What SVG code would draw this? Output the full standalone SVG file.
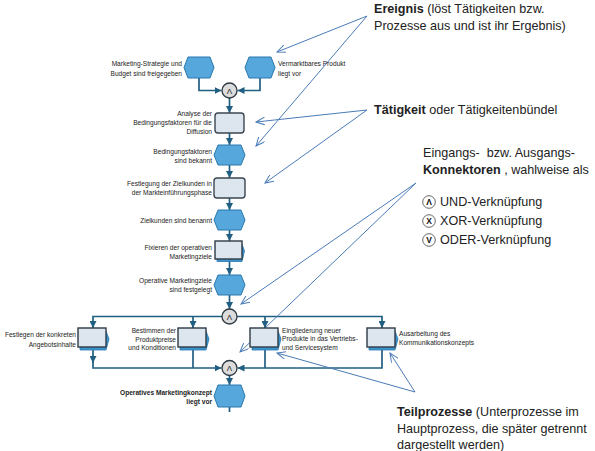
<svg xmlns="http://www.w3.org/2000/svg" width="595" height="451" viewBox="0 0 595 451">
<defs>
<style>
.ev{fill:#56a8dc;stroke:#2a78ad;stroke-width:1}
.act{fill:#dde5ee;stroke:#3a4650;stroke-width:1.4}
.sp{fill:#dde5ee;stroke:#2e3a44;stroke-width:1.4}
.spb{fill:#3d95d0;stroke:#2a78ad;stroke-width:0.8}
.con{fill:#dcdcdc;stroke:#2e3a44;stroke-width:1.3}
.flow{fill:none;stroke:#205f82;stroke-width:1.7}
.ptr{fill:none;stroke:#4a7bb7;stroke-width:1}
.lbl{font-family:"Liberation Sans",Arial,sans-serif;font-size:6.6px;fill:#222}
.sym{font-family:"Liberation Sans",Arial,sans-serif;font-size:8px;fill:#222;text-anchor:middle}
.ann{font-family:"Liberation Sans",Arial,sans-serif;font-size:12.6px;fill:#222}
.lsym{font-family:"Liberation Sans",Arial,sans-serif;font-size:8.5px;font-weight:bold;fill:#111;text-anchor:middle}
.r{text-anchor:end}
</style>
<marker id="fa" markerUnits="userSpaceOnUse" markerWidth="7" markerHeight="7" refX="7" refY="3.5" orient="auto">
<path d="M0,0 L7,3.5 L0,7 z" fill="#205f82"/>
</marker>
<marker id="pa" markerUnits="userSpaceOnUse" markerWidth="10" markerHeight="8" refX="9" refY="4" orient="auto">
<path d="M0,0 L9,4 L0,8" fill="none" stroke="#4a7bb7" stroke-width="1"/>
</marker>
</defs>
<rect width="595" height="451" fill="#ffffff"/>

<g id="connectors">
<path class="flow" d="M199,78 V90.5 H221.5" marker-end="url(#fa)"/>
<path class="flow" d="M260,78 V90.5 H237.5" marker-end="url(#fa)"/>
<path class="flow" d="M229.5,98 V113" marker-end="url(#fa)"/>
<path class="flow" d="M229.5,133 V145" marker-end="url(#fa)"/>
<path class="flow" d="M229.5,165 V178" marker-end="url(#fa)"/>
<path class="flow" d="M229.5,198 V210" marker-end="url(#fa)"/>
<path class="flow" d="M229.5,230 V241" marker-end="url(#fa)"/>
<path class="flow" d="M229.5,261 V275" marker-end="url(#fa)"/>
<path class="flow" d="M229.5,295 V309" marker-end="url(#fa)"/>
<path class="flow" d="M222,316.5 H93 V328" marker-end="url(#fa)"/>
<path class="flow" d="M237,316.5 H382 V328" marker-end="url(#fa)"/>
<path class="flow" d="M193,316.5 V328" marker-end="url(#fa)"/>
<path class="flow" d="M265,316.5 V328" marker-end="url(#fa)"/>
<path class="flow" d="M93,349 V363" marker-end="url(#fa)"/>
<path class="flow" d="M93,362 V368 H221.5" marker-end="url(#fa)"/>
<path class="flow" d="M193,349 V368"/>
<path class="flow" d="M265,349 V368"/>
<path class="flow" d="M382,349 V368 H237.5" marker-end="url(#fa)"/>
<path class="flow" d="M229.5,375.5 V385" marker-end="url(#fa)"/>
<path class="flow" d="M229.5,407 V412"/>
<path class="ptr" d="M367,16 L277,52" marker-end="url(#pa)"/>
<path class="ptr" d="M367,16 L256,146" marker-end="url(#pa)"/>
<path class="ptr" d="M367,110 L256,122" marker-end="url(#pa)"/>
<path class="ptr" d="M367,110 L265,183" marker-end="url(#pa)"/>
<path class="ptr" d="M416,183 L241,304" marker-end="url(#pa)"/>
<path class="ptr" d="M416,183 L240,352" marker-end="url(#pa)"/>
<path class="ptr" d="M415,392 L277,353" marker-end="url(#pa)"/>
<path class="ptr" d="M415,392 L390,353" marker-end="url(#pa)"/>
</g>

<g id="e1">
<polygon class="ev" points="188,57 210,57 214,67.5 210,78 188,78 184,67.5"/>
<text class="lbl r" x="182" y="66">Marketing-Strategie und</text>
<text class="lbl r" x="182" y="75.5">Budget sind freigegeben</text>
</g>
<g id="e2">
<polygon class="ev" points="249,57 271,57 275,67.5 271,78 249,78 245,67.5"/>
<text class="lbl" x="278" y="66">Vermarktbares Produkt</text>
<text class="lbl" x="278" y="75.5">liegt vor</text>
</g>
<g id="c1">
<circle class="con" cx="229.5" cy="90.5" r="7.5"/>
<text class="sym" x="229.5" y="93.5">Λ</text>
</g>
<g id="a1">
<rect class="act" x="215" y="113" width="29" height="20" rx="3"/>
<text class="lbl r" x="212" y="116">Analyse der</text>
<text class="lbl r" x="212" y="125">Bedingungsfaktoren für die</text>
<text class="lbl r" x="212" y="133.5">Diffusion</text>
</g>
<g id="e3">
<polygon class="ev" points="218,145 241,145 245,155 241,165 218,165 214,155"/>
<text class="lbl r" x="212" y="154">Bedingungsfaktoren</text>
<text class="lbl r" x="212" y="162.5">sind bekannt</text>
</g>
<g id="a2">
<rect class="act" x="214" y="178" width="31" height="20" rx="3"/>
<text class="lbl r" x="212" y="186">Festlegung der Zielkunden in</text>
<text class="lbl r" x="212" y="195">der Markteinführungsphase</text>
</g>
<g id="e4">
<polygon class="ev" points="218,210 241,210 245,220 241,230 218,230 214,220"/>
<text class="lbl r" x="212" y="222.5">Zielkunden sind benannt</text>
</g>
<g id="s1">
<polygon class="spb" points="217,244 242,244 244.5,251 242,261.5 217,261.5"/>
<rect class="sp" x="215" y="241" width="27" height="18"/>
<text class="lbl r" x="212" y="250">Fixieren der operativen</text>
<text class="lbl r" x="212" y="258.5">Marketingziele</text>
</g>
<g id="e5">
<polygon class="ev" points="218,275 241,275 245,285 241,295 218,295 214,285"/>
<text class="lbl r" x="212" y="282.5">Operative Marketingziele</text>
<text class="lbl r" x="212" y="292">sind festgelegt</text>
</g>
<g id="c2">
<circle class="con" cx="229.5" cy="316.5" r="7.5"/>
<text class="sym" x="229.5" y="319.5">Λ</text>
</g>
<g id="s2">
<polygon class="spb" points="80,331 106,331 109,339 106,350 80,350"/>
<rect class="sp" x="78" y="328" width="28" height="19"/>
<text class="lbl r" x="76" y="337">Festlegen der konkreten</text>
<text class="lbl r" x="76" y="346.5">Angebotsinhalte</text>
</g>
<g id="s3">
<polygon class="spb" points="180,331 206,331 209,339 206,350 180,350"/>
<rect class="sp" x="178" y="328" width="28" height="19"/>
<text class="lbl r" x="176" y="332.5">Bestimmen der</text>
<text class="lbl r" x="176" y="341.5">Produktpreise</text>
<text class="lbl r" x="176" y="350">und Konditionen</text>
</g>
<g id="s4">
<polygon class="spb" points="252,331 278,331 281,339 278,350 252,350"/>
<rect class="sp" x="250" y="328" width="28" height="19"/>
<text class="lbl" x="282" y="332.5">Eingliederung neuer</text>
<text class="lbl" x="282" y="341">Produkte in das Vertriebs-</text>
<text class="lbl" x="282" y="350">und Servicesystem</text>
</g>
<g id="s5">
<polygon class="spb" points="369,331 395,331 398,339 395,350 369,350"/>
<rect class="sp" x="367" y="328" width="28" height="19"/>
<text class="lbl" x="399" y="336">Ausarbeitung des</text>
<text class="lbl" x="399" y="345">Kommunikationskonzepts</text>
</g>
<g id="c3">
<circle class="con" cx="229.5" cy="368" r="7.5"/>
<text class="sym" x="229.5" y="371">Λ</text>
</g>
<g id="e6">
<polygon class="ev" points="218,385 241,385 245,396 241,407 218,407 214,396"/>
<text class="lbl r" x="212" y="394.5" font-weight="bold">Operatives Marketingkonzept</text>
<text class="lbl r" x="212" y="403.5" font-weight="bold">liegt vor</text>
</g>

<g id="legend">
<text class="ann" x="374" y="12.5"><tspan font-weight="bold">Ereignis</tspan> (löst Tätigkeiten bzw.</text>
<text class="ann" x="374" y="29.5">Prozesse aus und ist ihr Ergebnis)</text>
<text class="ann" x="374" y="114"><tspan font-weight="bold">Tätigkeit</tspan> oder Tätigkeitenbündel</text>
<text class="ann" x="423" y="156.5">Eingangs-&#160; bzw. Ausgangs-</text>
<text class="ann" x="423" y="173.5"><tspan font-weight="bold">Konnektoren</tspan> , wahlweise als</text>
<circle cx="429" cy="202" r="6.3" fill="#fff" stroke="#666" stroke-width="1"/>
<text class="lsym" x="429" y="205">Λ</text>
<text class="ann" x="440" y="206">UND-Verknüpfung</text>
<circle cx="429" cy="221" r="6.3" fill="#fff" stroke="#666" stroke-width="1"/>
<text class="lsym" x="429" y="224">X</text>
<text class="ann" x="440" y="225">XOR-Verknüpfung</text>
<circle cx="429" cy="240" r="6.3" fill="#fff" stroke="#666" stroke-width="1"/>
<text class="lsym" x="429" y="243">V</text>
<text class="ann" x="440" y="244">ODER-Verknüpfung</text>
<text class="ann" x="397" y="415.5"><tspan font-weight="bold">Teilprozesse</tspan> (Unterprozesse im</text>
<text class="ann" x="397" y="432.5">Hauptprozess, die später getrennt</text>
<text class="ann" x="397" y="449">dargestellt werden)</text>
</g>
</svg>
